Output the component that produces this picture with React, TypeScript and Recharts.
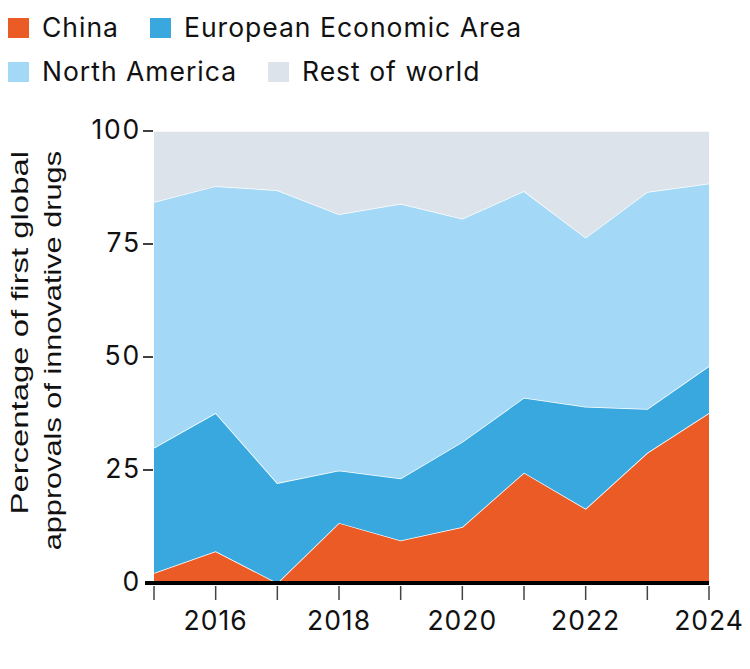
import { AreaChart, Area, XAxis, YAxis, Legend, Label } from 'recharts'

// Share (%) of first global approvals of innovative drugs, by region
const years = [2015, 2016, 2017, 2018, 2019, 2020, 2021, 2022, 2023, 2024]
const china = [2.2, 7.0, 0, 13.3, 9.4, 12.4, 24.4, 16.4, 28.8, 37.6]
const europeanEconomicArea = [27.7, 30.6, 22.1, 11.6, 13.7, 18.8, 16.6, 22.6, 9.7, 10.4]
const northAmerica = [54.4, 50.2, 64.8, 56.7, 60.8, 49.4, 45.7, 37.4, 48.0, 40.4]
const restOfWorld = [15.7, 12.2, 13.1, 18.4, 16.1, 19.4, 13.3, 23.6, 13.5, 11.6]

const yTicks = [0, 25, 50, 75, 100]
const labelledYears = [2016, 2018, 2020, 2022, 2024]

const series = [
  { key: 'china', name: 'China', color: '#ea5b26' },
  { key: 'eea', name: 'European Economic Area', color: '#38a8df' },
  { key: 'northAmerica', name: 'North America', color: '#a3d9f6' },
  { key: 'rest', name: 'Rest of world', color: '#dce3eb' },
]

const data = years.map((year, i) => ({
  year,
  china: china[i],
  eea: europeanEconomicArea[i],
  northAmerica: northAmerica[i],
  rest: restOfWorld[i],
}))

const FONT = 'Inter, "Noto Sans", sans-serif'

// two rows of legend items, placed by hand
const legendSpots = [
  { left: 8, top: 18 },
  { left: 150, top: 18 },
  { left: 8, top: 62 },
  { left: 268, top: 62 },
]

function LegendContent() {
  return (
    <div style={{ position: 'relative', width: 0, height: 0 }}>
      {series.map((s, i) => (
        <div key={s.key} style={{ position: 'absolute', left: legendSpots[i].left, top: legendSpots[i].top, whiteSpace: 'nowrap' }}>
          <span style={{ position: 'absolute', left: 0, top: 0, width: 21, height: 20, background: s.color }} />
          <span style={{ position: 'absolute', left: 34, top: -7, fontFamily: FONT, fontSize: 26.5, letterSpacing: 1, lineHeight: '32px', color: '#111' }}>
            {s.name}
          </span>
        </div>
      ))}
    </div>
  )
}

function YTick({ x, y, payload }: any) {
  return (
    <g>
      {payload.value === 0 ? (
        <line x1={x - 9} x2={x} y1={y} y2={y} stroke="#000" strokeWidth={4} />
      ) : (
        <line x1={x - 11} x2={x - 1} y1={y} y2={y} stroke="#000" strokeWidth={1.5} />
      )}
      <text x={x - 13} y={y + 8} textAnchor="end" fontFamily={FONT} fontSize={26.5} letterSpacing={1.8} fill="#111">
        {payload.value}
      </text>
    </g>
  )
}

function XTick({ x, y, payload }: any) {
  return (
    <g>
      <line x1={x} x2={x} y1={y + 3} y2={y + 17} stroke="#444" strokeWidth={1.5} />
      {labelledYears.includes(payload.value) && (
        <text x={x} y={y + 47} textAnchor="middle" fontFamily={FONT} fontSize={26.5} letterSpacing={1} fill="#111">
          {payload.value}
        </text>
      )}
    </g>
  )
}

function YTitle() {
  const style = { fontFamily: '"Liberation Sans", Arial, sans-serif', fontSize: 24, fill: '#111' }
  return (
    <g>
      <text transform="translate(28,151) rotate(-90) scale(1.37,1)" textAnchor="end" {...style}>
        Percentage of first global
      </text>
      <text transform="translate(61,151) rotate(-90) scale(1.28,1)" textAnchor="end" {...style}>
        approvals of innovative drugs
      </text>
    </g>
  )
}

export default function App() {
  return (
    <div style={{ position: 'absolute', left: 0, top: 0, width: 750, height: 669, background: '#fff' }}>
      <AreaChart width={750} height={669} data={data} margin={{ top: 131, right: 41, bottom: 56, left: 84 }}>
        <XAxis
          dataKey="year"
          type="number"
          domain={[2015, 2024]}
          ticks={years}
          interval={0}
          height={30}
          tickSize={0}
          tickMargin={0}
          tick={<XTick />}
          axisLine={{ stroke: '#000', strokeWidth: 4 }}
        />
        <YAxis
          width={70}
          domain={[0, 100]}
          ticks={yTicks}
          interval={0}
          tickSize={0}
          tickMargin={0}
          tick={<YTick />}
          axisLine={false}
        >
          <Label content={<YTitle />} />
        </YAxis>
        <Legend verticalAlign="top" content={<LegendContent />} wrapperStyle={{ position: 'absolute', left: 0, top: 0, width: 0, height: 0 }} />
        {series.map((s) => (
          <Area
            key={s.key}
            type="linear"
            dataKey={s.key}
            name={s.name}
            stackId="share"
            fill={s.color}
            fillOpacity={1}
            stroke="#fff"
            strokeWidth={1.5}
            isAnimationActive={false}
          />
        ))}
      </AreaChart>
    </div>
  )
}
